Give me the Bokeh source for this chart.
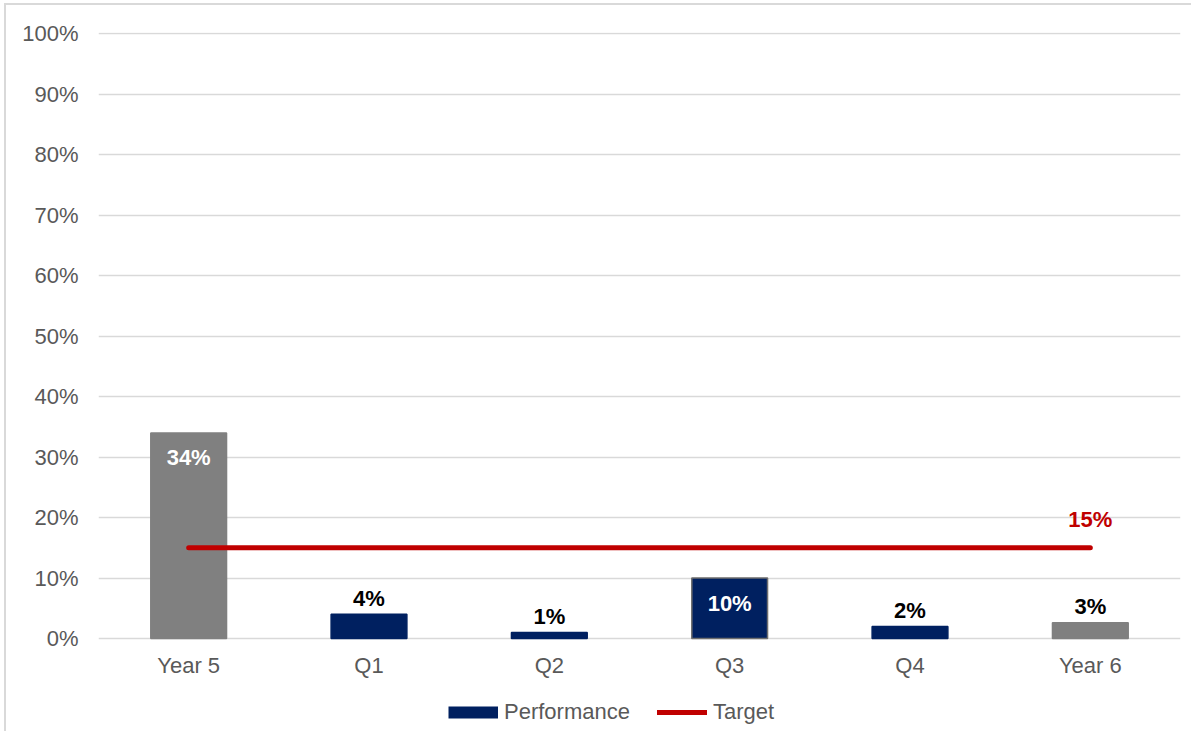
from bokeh.plotting import figure
from bokeh.models import (ColumnDataSource, FactorRange, Range1d, NumeralTickFormatter,
                          Legend, LegendItem)
from bokeh.core.properties import value
from bokeh.embed import file_html
from bokeh.resources import INLINE

# ---- data ----
categories = ["Year 5", "Q1", "Q2", "Q3", "Q4", "Year 6"]
performance = [0.34, 0.04, 0.01, 0.10, 0.02, 0.026]
period_type = ["year", "quarter", "quarter", "quarter", "quarter", "year"]
target_value = 0.15
y_ticks = [0.0, 0.1, 0.2, 0.3, 0.4, 0.5, 0.6, 0.7, 0.8, 0.9, 1.0]

# ---- styles ----
NAVY = "#002060"
GRAY = "#808080"
RED = "#C00000"
TXT = "#595959"
GRID = "#D9D9D9"
FONT = "Liberation Sans"
FS = "22px"

fill = [GRAY if t == "year" else NAVY for t in period_type]
outline = ["#6E6E6E" if c == "Q3" else f for c, f in zip(categories, fill)]
inside = [v > 0.08 for v in performance]
label_color = ["white" if i else "black" for i in inside]
label_offset = [25 if i else -16 for i in inside]
labels = [f"{v:.0%}" for v in performance]

src = ColumnDataSource(dict(cat=categories, val=performance, fill=fill, line=outline,
                            label=labels, tcolor=label_color, yoff=label_offset))

# frame extends below zero so the legend can sit inside it; x axis is pinned at y=0
p = figure(x_range=FactorRange(*categories, range_padding=0), y_range=Range1d(-0.157, 1.002),
           width=1187, height=728, output_backend="svg", toolbar_location=None,
           min_border_left=92, min_border_right=13, min_border_top=27, min_border_bottom=0)
p.styles = {"border-top": "2px solid #D9D9D9", "border-left": "2px solid #D9D9D9",
            "margin-top": "3px", "margin-left": "4px"}
p.outline_line_color = None
p.background_fill_color = "white"

for ax in (p.xaxis, p.yaxis):
    ax.axis_line_color = None
    ax.major_tick_line_color = None
    ax.minor_tick_line_color = None
    ax.major_tick_out = 0
    ax.major_tick_in = 0
    ax.major_label_text_font = FONT
    ax.major_label_text_font_size = FS
    ax.major_label_text_color = TXT
p.xaxis.fixed_location = 0
p.xaxis.major_label_standoff = 14
p.yaxis.major_label_standoff = 20
p.yaxis.ticker = y_ticks
p.yaxis.formatter = NumeralTickFormatter(format="0%")
p.xgrid.grid_line_color = None
p.ygrid.grid_line_color = GRID
p.ygrid.grid_line_width = 1.5

p.vbar(x="cat", top="val", width=0.42, source=src, fill_color="fill",
       line_color="line", line_width=1.5)

target_line = p.line(x=[categories[0], categories[-1]], y=[target_value, target_value],
                     line_color=RED, line_width=5, line_cap="round")

p.text(x="cat", y="val", text="label", source=src, text_color="tcolor", y_offset="yoff",
       text_align="center", text_baseline="alphabetic", text_font=value(FONT),
       text_font_style="bold", text_font_size=FS)

p.text(x=[categories[-1]], y=[target_value], text=[f"{target_value:.0%}"], y_offset=-28,
       text_color=RED, text_align="center", text_baseline="alphabetic",
       text_font=value(FONT), text_font_style="bold", text_font_size=FS)

# legend swatch for the bars (single off-screen point, draws nothing in the plot)
perf_swatch = p.line(x=[categories[0]], y=[-5.0], line_color=NAVY, line_width=12,
                     line_cap="butt")

legend = Legend(items=[LegendItem(label="Performance", renderers=[perf_swatch]),
                       LegendItem(label="Target", renderers=[target_line])],
                orientation="horizontal", location=(350, 8), glyph_width=50,
                glyph_height=20, label_standoff=6, spacing=27, padding=0, margin=0,
                border_line_color=None, background_fill_alpha=0,
                label_text_font=FONT, label_text_font_size=FS, label_text_color=TXT)
p.add_layout(legend)

open("out.html", "w").write(file_html(p, INLINE))
